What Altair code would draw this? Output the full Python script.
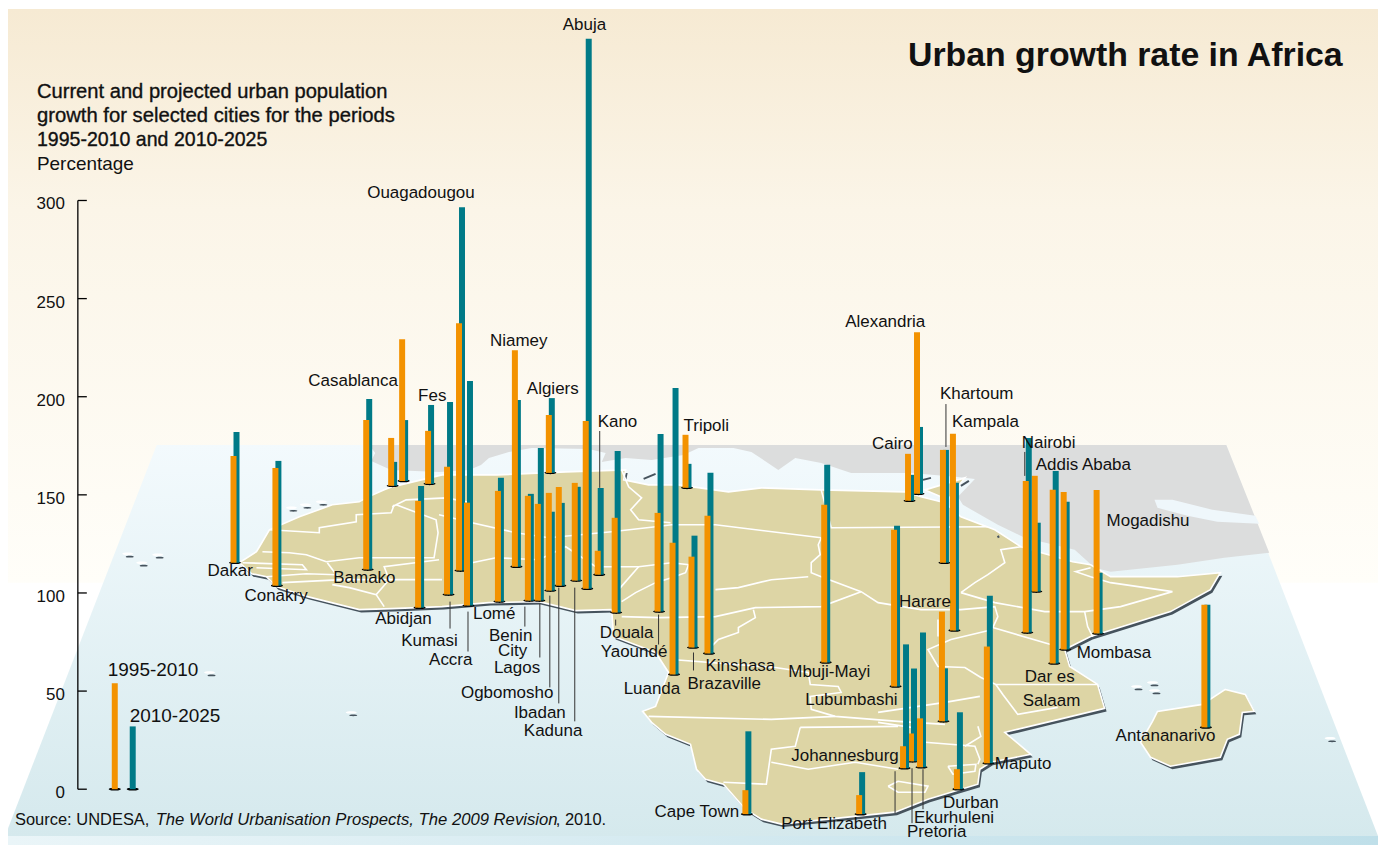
import altair as alt
import pandas as pd

FONT = "Liberation Sans"
PX_PER_UNIT = 1.9667
ZERO_ROW = 790.0


def lv(py):
    return (ZERO_ROW - py) / PX_PER_UNIT


# ---- data: left edge on the map, foot of the bar on the axis scale, growth 1995-2010, growth 2010-2025
cities = ["Dakar", "Conakry", "Bamako", "Rabat", "Casablanca", "Fes", "Abidjan", "Kumasi", "Ouagadougou", "Accra",
          "Lome", "Niamey", "Benin City", "Lagos", "Ogbomosho", "Ibadan", "Kaduna", "Algiers", "Abuja", "Kano",
          "Douala", "Yaounde", "Luanda", "Tripoli", "Brazzaville", "Kinshasa", "Mbuji-Mayi", "Lubumbashi",
          "Alexandria", "Cairo", "Khartoum", "Kampala", "Harare", "Nairobi", "Addis Ababa", "Dar es Salaam",
          "Mombasa", "Mogadishu", "Antananarivo", "Maputo", "Durban", "Johannesburg", "Ekurhuleni", "Pretoria",
          "Cape Town", "Port Elizabeth"]
map_x = [231, 273, 364, 389, 400, 426, 416, 445, 457, 465,
         496, 513, 526, 536, 547, 557, 573, 547, 584, 596,
         613, 656, 671, 684, 690, 706, 823, 893,
         916, 907, 942, 952, 941, 1025, 1034, 1052,
         1063, 1096, 1204, 986, 956, 902, 910, 919,
         744, 858]
foot = [115.4, 103.7, 111.9, 154.6, 157.1, 155.6, 92.5, 99.2, 111.4, 93.6,
        95.6, 113.4, 96.1, 96.1, 101.2, 103.7, 106.3, 161.2, 102.2, 109.3,
        90.0, 90.5, 58.5, 153.6, 72.2, 69.2, 64.6, 52.4,
        150.5, 147.0, 115.4, 80.9, 34.6, 79.8, 100.7, 64.1,
        71.2, 79.3, 31.5, 13.2, 0.0, 10.7, 14.2, 11.2,
        -12.7, -12.7]
growth_95_10 = [54.4, 60.0, 76.3, 24.4, 72.2, 27.0, 54.4, 65.1, 126.1, 52.4,
                56.4, 110.3, 53.4, 49.3, 49.8, 50.3, 49.8, 29.5, 85.4, 12.2,
                48.3, 50.3, 67.1, 27.0, 46.3, 70.2, 80.3, 79.8,
                82.4, 23.9, 57.5, 100.2, 55.9, 77.3, 59.0, 88.5,
                80.3, 73.2, 62.5, 59.5, 10.2, 11.2, 14.2, 24.9,
                12.2, 9.7]
growth_10_25 = [66.6, 63.6, 87.0, 12.2, 31.0, 40.2, 62.0, 98.1, 185.1, 114.4,
                63.1, 84.9, 54.4, 77.8, 40.2, 42.2, 47.8, 38.1, 280.2, 44.2,
                82.4, 90.5, 145.9, 12.2, 57.0, 92.0, 100.7, 81.9,
                34.1, 13.2, 57.5, 75.3, 27.0, 99.2, 35.1, 98.1,
                75.3, 31.0, 62.5, 85.4, 39.2, 63.1, 47.3, 68.6,
                42.2, 21.4]

legend_x = [115, 133]
legend_vals = [54, 32]

axis_ticks = [0, 50, 100, 150, 200, 250, 300]

city_labels = ["Abuja", "Ouagadougou", "Alexandria", "Niamey", "Casablanca", "Fes", "Algiers", "Kano", "Tripoli",
               "Khartoum", "Kampala", "Cairo", "Nairobi", "Addis Ababa", "Mogadishu", "Dakar", "Conakry", "Bamako",
               "Abidjan", "Kumasi", "Accra", "Lomé", "Benin", "City", "Lagos", "Ogbomosho", "Ibadan", "Kaduna",
               "Douala", "Yaoundé", "Luanda", "Brazaville", "Kinshasa", "Mbuji-Mayi", "Lubumbashi", "Johannesburg",
               "Cape Town", "Port Elizabeth", "Harare", "Mombasa", "Dar es", "Salaam", "Maputo", "Antananarivo",
               "Durban", "Ekurhuleni", "Pretoria"]
label_x = [563, 367, 846, 490, 308, 418, 527, 598, 684,
           941, 953, 873, 1023, 1037, 1108, 207, 244, 333,
           375, 401, 429, 473, 489, 498, 494, 461, 514, 524,
           600, 601, 624, 688, 706, 789, 806, 792,
           655, 782, 900, 1078, 1026, 1024, 996, 1117,
           944, 915, 908]
label_row = [29, 197, 327, 346, 386, 401, 394, 427, 431,
             399, 427, 449, 448, 470, 526, 576, 601, 583,
             624, 646, 666, 619, 641, 657, 674, 699, 719, 737,
             638, 658, 695, 690, 672, 678, 706, 762,
             818, 830, 607, 659, 683, 707, 770, 742,
             809, 824, 838]

leader_x = [451, 469, 526, 541, 551, 560, 576, 617, 660, 695, 601, 948, 1027, 897, 914, 925]
leader_from = [602, 612, 607, 604, 596, 588, 588, 620, 615, 653, 431, 404, 452, 772, 769, 770]
leader_to = [629, 652, 627, 658, 688, 704, 722, 626, 645, 671, 488, 447, 476, 814, 824, 810]

island_x = [128, 142, 158, 292, 306, 322, 210, 352, 1139, 1155, 1157, 1333]
island_row = [554, 563, 555, 508, 505, 502, 673, 713, 687, 683, 691, 739]

africa = [(443, 475), (393, 487), (385, 490), (367, 498), (360, 502), (333, 505), (300, 517), (270, 530), (260, 547),
          (257, 552), (240, 563), (252, 574), (267, 577), (277, 587), (308, 597), (360, 610), (393, 609), (443, 607),
          (490, 603), (540, 602), (577, 611), (613, 610), (615, 637), (657, 653), (670, 673), (657, 707), (644, 712),
          (653, 723), (667, 735), (692, 745), (698, 770), (707, 780), (725, 785), (747, 810), (763, 820), (783, 825),
          (897, 813), (930, 800), (980, 785), (982, 770), (993, 763), (1033, 755), (1007, 733), (1053, 722),
          (1107, 709), (1100, 685), (1072, 667), (1067, 650), (1093, 637), (1173, 612), (1213, 590), (1223, 573),
          (1180, 577), (1113, 577), (1093, 565), (1075, 562), (1023, 547), (997, 530), (963, 517), (947, 503),
          (923, 497), (907, 492), (823, 490), (763, 488), (730, 492), (680, 485), (650, 485), (625, 480), (627, 470),
          (567, 472), (498, 475)]
sinai = [(927, 490), (967, 478), (957, 490), (950, 500)]
madagascar = [(1228, 690), (1248, 695), (1257, 712), (1245, 713), (1242, 735), (1230, 740), (1223, 758), (1173, 767),
              (1153, 758), (1143, 743), (1155, 722), (1160, 712), (1205, 705)]
eurasia = [(370, 445), (1229, 445), (1272, 553), (1227, 558), (1180, 565), (1113, 572), (1097, 568), (1077, 550),
           (1027, 538), (1000, 525), (965, 505), (960, 497), (977, 479), (960, 477), (913, 473), (853, 473),
           (823, 463), (797, 458), (780, 470), (753, 452), (735, 448), (700, 448), (685, 455), (653, 460), (627, 458),
           (603, 462), (607, 453), (590, 449), (533, 448), (510, 452), (490, 458), (482, 465), (470, 470), (440, 472),
           (392, 470), (372, 461), (376, 453)]
gulf = [(1157, 500), (1175, 500), (1215, 510), (1258, 516), (1262, 524), (1220, 522), (1190, 516), (1160, 508)]
sea = [(5, 837), (157, 445), (1229, 445), (1381, 837)]
dark_streaks = [[(645, 479), (657, 474)], [(925, 480), (933, 478)], [(963, 486), (971, 481)], [(1000, 536), (1001, 538)]]

borders = [
    [(270, 530), (320, 533), (320, 528), (357, 522), (357, 515), (392, 513), (395, 505)],
    [(393, 507), (407, 500), (447, 498), (473, 503)],
    [(397, 505), (437, 520), (439, 533), (435, 558), (387, 558), (360, 558), (327, 562), (307, 555), (290, 553), (263, 552)],
    [(243, 563), (303, 565), (307, 570), (257, 568)],
    [(267, 577), (307, 574), (337, 575), (328, 563)],
    [(283, 583), (343, 580), (443, 580)],
    [(333, 585), (350, 588), (377, 595), (385, 607)],
    [(377, 595), (390, 580), (385, 567), (440, 560)],
    [(440, 515), (473, 523), (517, 533), (550, 538), (613, 532), (657, 527), (673, 525), (717, 525), (823, 538)],
    [(823, 538), (820, 545), (822, 555), (813, 563), (813, 573), (823, 577), (863, 592), (880, 603), (923, 610), (963, 610), (997, 607), (1000, 617), (995, 628), (1053, 645)],
    [(823, 490), (833, 528), (990, 527)],
    [(623, 470), (630, 487), (643, 498), (632, 510), (640, 520), (672, 523)],
    [(473, 563), (497, 558), (540, 560), (567, 547), (597, 567), (640, 567), (673, 563), (690, 565), (687, 573), (673, 578), (657, 583), (637, 593), (623, 602)],
    [(717, 590), (740, 588), (773, 580), (810, 577)],
    [(623, 617), (660, 618), (717, 617), (757, 608), (823, 607), (863, 592)],
    [(755, 610), (757, 618), (740, 628), (740, 633), (720, 640), (707, 653)],
    [(673, 660), (777, 668), (810, 673), (812, 685), (840, 687), (843, 693), (812, 697), (813, 710), (837, 717), (900, 722), (947, 725)],
    [(650, 717), (773, 720), (837, 717)],
    [(802, 728), (900, 727)],
    [(802, 728), (797, 747), (773, 750), (768, 785), (725, 783)],
    [(773, 763), (810, 770), (857, 763), (900, 770)],
    [(963, 593), (977, 583), (990, 575), (1007, 563), (1003, 550), (1023, 547)],
    [(963, 593), (997, 603), (1047, 612), (1087, 612), (1123, 607), (1175, 592), (1113, 583), (1093, 577), (1078, 572), (1093, 568)],
    [(1087, 612), (1090, 627), (1095, 637)],
    [(995, 630), (953, 640), (930, 650), (940, 667), (967, 668), (983, 678), (998, 685), (1100, 685)],
    [(940, 620), (940, 637)],
    [(998, 685), (1005, 695), (1020, 715), (1060, 708)],
    [(880, 713), (947, 703), (982, 697)],
    [(927, 743), (977, 747), (982, 760), (980, 765)],
    [(980, 727), (983, 737), (967, 747)],
    [(950, 767), (978, 765), (977, 772), (955, 775), (950, 767)],
    [(890, 787), (900, 782), (930, 787), (927, 793), (900, 793), (890, 787)],
    [(880, 723), (927, 730), (927, 743)],
    [(620, 590), (640, 567)],
]

# ---- frames: far bars first; inside a city the 2010-2025 bar lies under the 1995-2010 bar
rows = []
for i in sorted(range(len(cities)), key=lambda k: -foot[k]):
    x, f = map_x[i], foot[i]
    rows.append(dict(x=x + 6, y=f, y2=f + growth_10_25[i], series="2010-2025"))
    rows.append(dict(x=x + 3, y=f, y2=f + growth_95_10[i], series="1995-2010"))
bars = pd.DataFrame(rows)
feet = pd.DataFrame(dict(x=[x + 4.5 for x in map_x], y=foot))

legend = pd.DataFrame(dict(x=legend_x, y=[0, 0], y2=legend_vals, series=["1995-2010", "2010-2025"]))
legend_feet = pd.DataFrame(dict(x=legend_x, y=[0, 0]))
labels = pd.DataFrame(dict(t=city_labels, x=label_x, y=[lv(r) for r in label_row]))
leaders = pd.DataFrame(dict(x=leader_x, y=[lv(r) for r in leader_from], y2=[lv(r) for r in leader_to]))
isl = pd.DataFrame(dict(x=island_x, y=[lv(r) for r in island_row]))
isl2 = pd.DataFrame(dict(x=[v + 2 for v in island_x], y=[lv(r + 3) for r in island_row]))

XS = alt.Scale(domain=[8, 1381], nice=False, zero=False)
YS = alt.Scale(domain=[lv(846), lv(8)], nice=False, zero=False)
X = alt.X("x:Q", scale=XS, axis=None)
Y = alt.Y("y:Q", scale=YS, axis=None)
COLORS = alt.Color("series:N", legend=None,
                   scale=alt.Scale(domain=["1995-2010", "2010-2025"], range=["#f39200", "#007a87"]))
ELLIPSE = "M-1,0C-1,-0.3,1,-0.3,1,0C1,0.3,-1,0.3,-1,0Z"


def poly(pts, dx=0, dy=0):
    ring = [[p[0] + dx, p[1] + dy] for p in pts]
    ring.append(ring[0])
    return {"type": "Feature", "properties": {}, "geometry": {"type": "Polygon", "coordinates": [ring]}}


def line_feat(b):
    return {"type": "Feature", "properties": {},
            "geometry": {"type": "LineString", "coordinates": [list(p) for p in b]}}


def shape(features, **kw):
    return alt.Chart(alt.Data(values=features)).mark_geoshape(**kw).project(
        type="identity", scale=1, translate=[-8, -8])


def grad(stops, horizontal=False):
    return alt.Gradient(gradient="linear",
                        stops=[alt.GradientStop(color=c, offset=o) for o, c in stops],
                        x1=0, x2=1 if horizontal else 0, y1=0, y2=0 if horizontal else 1)


def rect(x0, x1, r0, r1, col):
    d = pd.DataFrame(dict(x=[x0], x2=[x1], y=[lv(r0)], y2=[lv(r1)]))
    return alt.Chart(d).mark_rect(color=col).encode(X, alt.X2("x2:Q"), Y, alt.Y2("y2:Q"))


def note(t, x, r, size=17, weight="normal", style="normal", stroke=0.0, align="left"):
    d = pd.DataFrame(dict(t=[t], x=[x], y=[lv(r)]))
    kw = dict(stroke="#111111", strokeWidth=stroke) if stroke else {}
    return alt.Chart(d).mark_text(align=align, baseline="alphabetic", font=FONT, fontSize=size, fontWeight=weight,
                                  fontStyle=style, color="#111111", **kw).encode(X, Y, text="t:N")


land = [poly(africa), poly(madagascar), poly(sinai)]
shadow = [poly(africa, 2, 3), poly(madagascar, 2, 3)]

layers = [
    rect(8, 1381, 8, 583, grad([(0, "#f6ead3"), (0.35, "#fbf5e8"), (1, "#fffef9")])),
    shape([poly(sea)], color=grad([(0, "#f3fafd"), (1, "#d5e9ed")]), strokeWidth=0),
    rect(8, 1381, 837, 846, grad([(0, "#eaf5f8"), (1, "#bfdfe9")], horizontal=True)),
    shape([poly(eurasia)], color="#dcdddd", strokeWidth=0),
    shape([poly(gulf)], color="#eff7fb", strokeWidth=0),
    shape(shadow, color="#46535d", strokeWidth=0),
    shape(land, fill="#ddd5a5", stroke="#ffffff", strokeWidth=1.6),
    shape([line_feat(b) for b in borders], filled=False, stroke="#ffffff", strokeWidth=1.6),
    shape([line_feat(b) for b in dark_streaks], filled=False, stroke="#46535d", strokeWidth=2),
    alt.Chart(isl2).mark_point(shape=ELLIPSE, size=64, filled=True, color="#46535d", opacity=1).encode(X, Y),
    alt.Chart(isl).mark_point(shape=ELLIPSE, size=121, filled=True, color="#ffffff", opacity=1).encode(X, Y),
]

axis_df = pd.DataFrame(dict(x=[78.0], y=[0.0], y2=[300.0]))
tick_df = pd.DataFrame(dict(x=[78.0] * len(axis_ticks), x2=[87.0] * len(axis_ticks), y=axis_ticks))
tick_text = pd.DataFrame(dict(x=[65.0] * len(axis_ticks), y=axis_ticks, t=[str(v) for v in axis_ticks]))
layers += [
    alt.Chart(axis_df).mark_rule(color="#000000", strokeWidth=1.3).encode(X, Y, alt.Y2("y2:Q")),
    alt.Chart(tick_df).mark_rule(color="#000000", strokeWidth=1.3).encode(X, alt.X2("x2:Q"), Y),
    alt.Chart(tick_text).mark_text(align="right", baseline="alphabetic", dy=9, font=FONT, fontSize=17,
                                   color="#111111").encode(X, Y, text="t:N"),
    alt.Chart(legend_feet).mark_point(shape=ELLIPSE, size=144, filled=True, color="#000000", opacity=1).encode(X, Y),
    alt.Chart(feet).mark_point(shape=ELLIPSE, size=144, filled=True, color="#000000", opacity=1).encode(X, Y),
    alt.Chart(legend).mark_rule(strokeWidth=6, opacity=1).encode(X, Y, alt.Y2("y2:Q"), COLORS),
    alt.Chart(bars).mark_rule(strokeWidth=6, opacity=1).encode(X, Y, alt.Y2("y2:Q"), COLORS),
    alt.Chart(leaders).mark_rule(color="#333333", strokeWidth=1).encode(X, Y, alt.Y2("y2:Q")),
    alt.Chart(labels).mark_text(align="left", baseline="alphabetic", dx=1, font=FONT, fontSize=17,
                                color="#111111").encode(X, Y, text="t:N"),
    note("Urban growth rate in Africa", 910, 65, size=33.9, weight="bold"),
    note("Current and projected urban population", 37, 97, size=20.2, stroke=0.35),
    note("growth for selected cities for the periods", 37, 121, size=20.3, stroke=0.35),
    note("1995-2010 and 2010-2025", 37, 145, size=19.6, stroke=0.35),
    note("Percentage", 37, 169, size=19),
    note("1995-2010", 108, 677, size=19),
    note("2010-2025", 130, 723, size=19),
    note("Source: UNDESA, ", 15, 826, size=16.5),
    note("The World Urbanisation Prospects, The 2009 Revision", 156, 826, size=16.7, style="italic"),
    note(", 2010.", 557, 826, size=16.5),
]

chart = alt.layer(*layers).properties(
    width=1373, height=838, padding=0, autosize=alt.AutoSizeParams(type="none")
).configure_view(stroke=None)

chart.save("out.html", embed_options={"renderer": "svg", "actions": False})
